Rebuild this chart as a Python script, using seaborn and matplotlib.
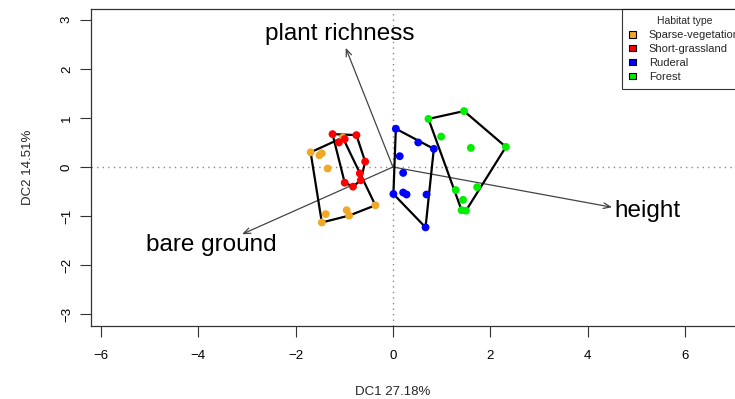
import numpy as np
import pandas as pd
import matplotlib
matplotlib.use('Agg')
import matplotlib.pyplot as plt
from matplotlib.patches import Patch
import seaborn as sns

# Site scores per habitat (DC1, DC2)
sparse_x = [-1.69, -1.51, -1.46, -1.34, -1.03, -0.95, -0.90, -0.36, -1.46, -1.38]
sparse_y = [0.30, 0.24, 0.28, -0.03, 0.60, -0.88, -0.99, -0.78, -1.13, -0.96]
short_x = [-1.24, -1.11, -0.99, -0.75, -0.57, -0.68, -0.66, -0.82, -0.99]
short_y = [0.67, 0.50, 0.57, 0.65, 0.11, -0.13, -0.27, -0.40, -0.32]
ruderal_x = [0.06, 0.52, 0.84, 0.14, 0.21, 0.01, 0.21, 0.28, 0.69, 0.67]
ruderal_y = [0.78, 0.50, 0.37, 0.22, -0.12, -0.55, -0.52, -0.56, -0.56, -1.23]
forest_x = [0.73, 1.46, 0.99, 1.60, 2.32, 1.29, 1.73, 1.44, 1.41, 1.50]
forest_y = [0.98, 1.14, 0.62, 0.39, 0.41, -0.47, -0.41, -0.67, -0.88, -0.89]

habitats = ['Sparse-vegetation', 'Short-grassland', 'Ruderal', 'Forest']
colors = ['#F0A828', '#FF0000', '#0000FF', '#00EE00']

# Environmental vectors
env_names = ['plant richness', 'height', 'bare ground']
env_x = [-0.97, 4.50, -3.10]
env_y = [2.43, -0.82, -1.37]
label_x = [-1.09, 5.22, -3.72]
label_y = [2.71, -0.90, -1.59]

groups = [(sparse_x, sparse_y), (short_x, short_y), (ruderal_x, ruderal_y), (forest_x, forest_y)]
df = pd.concat([pd.DataFrame({'DC1': gx, 'DC2': gy, 'habitat': h})
                for (gx, gy), h in zip(groups, habitats)], ignore_index=True)


def convex_hull(pts):
    pts = sorted(set(pts))
    def cross(o, a, b):
        return (a[0] - o[0]) * (b[1] - o[1]) - (a[1] - o[1]) * (b[0] - o[0])
    lower, upper = [], []
    for p in pts:
        while len(lower) >= 2 and cross(lower[-2], lower[-1], p) <= 0:
            lower.pop()
        lower.append(p)
    for p in reversed(pts):
        while len(upper) >= 2 and cross(upper[-2], upper[-1], p) <= 0:
            upper.pop()
        upper.append(p)
    return lower[:-1] + upper[:-1]


sns.set_style('white')
plt.rcParams['font.family'] = ['Liberation Sans', 'DejaVu Sans']

fig = plt.figure(figsize=(7.35, 3.99), dpi=100)
ax = fig.add_axes([91 / 735, 1 - 326 / 399, (745 - 91) / 735, (326 - 9) / 399])

ax.axhline(0, color='#888888', linestyle=(0, (1, 3)), lw=1, zorder=0)
ax.axvline(0, color='#888888', linestyle=(0, (1, 3)), lw=1, zorder=0)

# hulls around each habitat
for (gx, gy) in groups:
    hull = convex_hull(list(zip(gx, gy)))
    hull.append(hull[0])
    hx, hy = zip(*hull)
    ax.plot(hx, hy, color='black', lw=1.6, zorder=2)

sns.scatterplot(data=df, x='DC1', y='DC2', hue='habitat', hue_order=habitats,
                palette=colors, s=32, edgecolor='none', legend=False, ax=ax, zorder=3)

# environmental arrows
for name, ex, ey, lx, ly in zip(env_names, env_x, env_y, label_x, label_y):
    ax.annotate('', xy=(ex, ey), xytext=(0, 0),
                arrowprops=dict(arrowstyle='->,head_length=0.5,head_width=0.2',
                                color='#444444', lw=0.9, shrinkA=0, shrinkB=0), zorder=1)
    ax.text(lx, ly, name, fontsize=17.5, ha='center', va='center', color='black')

ax.set_xlim(-6.2, 7.23)
ax.set_ylim(-3.24, 3.22)
ax.set_xticks([-6, -4, -2, 0, 2, 4, 6])
ax.set_yticks([-3, -2, -1, 0, 1, 2, 3])
ax.tick_params(axis='both', direction='out', length=8, width=0.8, colors='#333333',
               labelsize=9.5, labelcolor='black', pad=9, left=True, bottom=True)
ax.tick_params(axis='y', pad=5)
for lab in ax.get_yticklabels():
    lab.set_rotation(90)
    lab.set_va('center')
for s in ax.spines.values():
    s.set_color('#333333')
    s.set_linewidth(0.9)

ax.set_xlabel('')
ax.set_ylabel('')
fig.text(393 / 735, 1 - 392 / 399, 'DC1 27.18%', ha='center', va='center', fontsize=9.5)
fig.text(28 / 735, 1 - 167 / 399, 'DC2 14.51%', ha='center', va='center', fontsize=9.5, rotation=90)

handles = [Patch(facecolor=c, edgecolor='black', linewidth=0.8, label=h)
           for c, h in zip(colors, habitats)]
leg = fig.legend(handles=handles, title='Habitat type', loc='upper left',
                 bbox_to_anchor=(622 / 735, 1 - 9 / 399), fontsize=8, title_fontsize=7.5,
                 frameon=True, fancybox=False, handlelength=0.65, handleheight=0.55,
                 handletextpad=1.1, borderpad=0.65, labelspacing=0.35, borderaxespad=0)
leg.get_frame().set_edgecolor('black')
leg.get_frame().set_linewidth(0.8)

fig.savefig('out.png', dpi=100)
